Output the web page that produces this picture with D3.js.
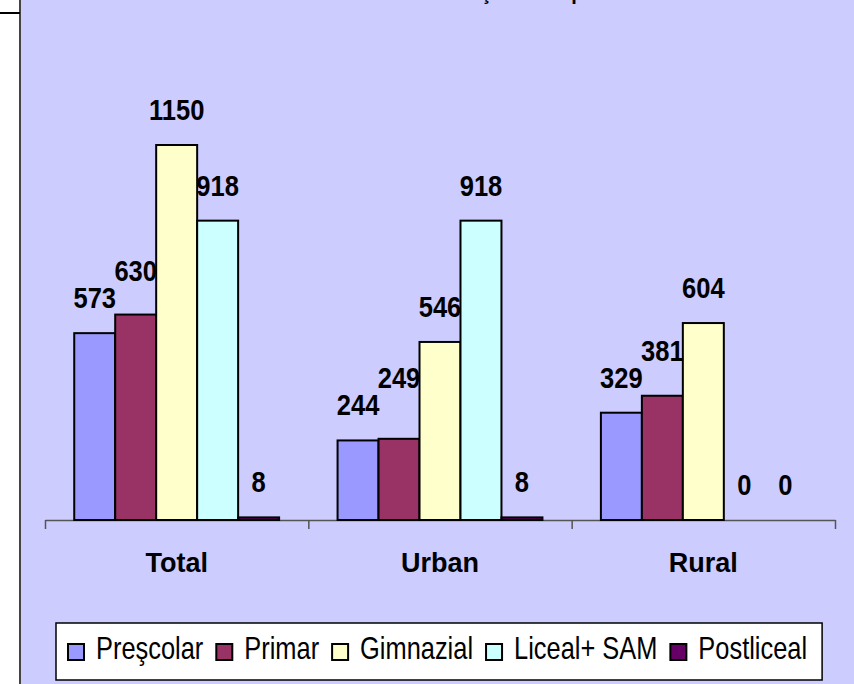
<!DOCTYPE html>
<html>
<head>
<meta charset="utf-8">
<script src="https://cdn.jsdelivr.net/npm/d3@7"></script>
<style>
body { margin: 0; background: #fff; }
svg { display: block; }
text { font-family: "Liberation Sans", Arial, sans-serif; }
</style>
</head>
<body>
<svg width="854" height="684"></svg>
<script>
// data
var categories = ["Total", "Urban", "Rural"];
var series = ["Preşcolar", "Primar", "Gimnazial", "Liceal+ SAM", "Postliceal"];
var colors = ["#9999FF", "#993366", "#FFFFCC", "#CCFFFF", "#660066"];
var prescolar = [573, 244, 329];
var primar = [630, 249, 381];
var gimnazial = [1150, 546, 604];
var liceal = [918, 918, 0];
var postliceal = [8, 8, 0];
var title = "Numărul cadrelor didactice în învăţământul preuniversitar";

var values = [prescolar, primar, gimnazial, liceal, postliceal];
var data = categories.map(function(c, i) {
    return { cat: c, vals: series.map(function(s, j) { return { s: s, v: values[j][i], k: j }; }) };
});

var svg = d3.select("svg");

// chart area background
svg.append("rect")
    .attr("x", 20).attr("y", 0)
    .attr("width", 834).attr("height", 684)
    .attr("fill", "#CCCCFF");
svg.append("line")
    .attr("x1", 20).attr("x2", 20).attr("y1", 0).attr("y2", 684)
    .attr("stroke", "#444").attr("stroke-width", 2);
svg.append("line")
    .attr("x1", 0).attr("x2", 20).attr("y1", 13).attr("y2", 13)
    .attr("stroke", "#000").attr("stroke-width", 2);

// title, cut off at the top like in the original
svg.append("text")
    .attr("x", 430).attr("y", 0)
    .attr("text-anchor", "middle")
    .style("font-size", "20px").style("font-weight", "bold")
    .text(title);

var left = 45, right = 835, base = 520;

var x0 = d3.scaleBand().domain(categories).range([left, right]);
var gap = x0.bandwidth() * 0.111;
var x1 = d3.scaleBand().domain(series).range([gap, x0.bandwidth() - gap]);
var y = d3.scaleLinear().domain([0, 1150]).range([base, 145]);

// axis with ticks at category boundaries
var xb = d3.scaleLinear().domain([0, categories.length]).range([left, right]);
var axis = svg.append("g")
    .attr("transform", "translate(0," + base + ")")
    .call(d3.axisBottom(xb).tickValues(d3.range(categories.length + 1)).tickSize(9).tickSizeOuter(0).tickFormat(""));
axis.selectAll("path, line").attr("stroke", "#555").attr("stroke-width", 1.5);

var groups = svg.selectAll(".grp")
    .data(data)
    .enter().append("g")
    .attr("class", "grp")
    .attr("transform", function(d) { return "translate(" + x0(d.cat) + ",0)"; });

groups.selectAll("rect")
    .data(function(d) { return d.vals; })
    .enter().append("rect")
    .attr("x", function(d) { return x1(d.s); })
    .attr("y", function(d) { return y(d.v); })
    .attr("width", x1.bandwidth())
    .attr("height", function(d) { return base - y(d.v); })
    .attr("fill", function(d) { return colors[d.k]; })
    .attr("stroke", "#000")
    .attr("stroke-width", 2);

// value labels, bumped up when they would run into the previous one
var lsx = 0.88, capH = 21;
groups.each(function(d) {
    var g = d3.select(this);
    var prev = null;
    d.vals.forEach(function(v) {
        var cx = x1(v.s) + x1.bandwidth() / 2;
        var by = y(v.v) - 25;
        var t = g.append("text")
            .attr("class", "lbl")
            .attr("text-anchor", "middle")
            .style("font-size", "29px").style("font-weight", "bold")
            .text(v.v);
        var w = t.node().getComputedTextLength() * lsx;
        if (prev && cx - w / 2 < prev.x1 + 6 && by > prev.y - capH - 4 && by - capH < prev.y + 4) {
            by = prev.y - capH - 6;
        }
        t.attr("transform", "translate(" + cx + "," + by + ") scale(" + lsx + ",1)");
        prev = { x1: cx + w / 2, y: by };
    });
});

// category labels
svg.selectAll(".cat")
    .data(categories)
    .enter().append("text")
    .attr("class", "cat")
    .attr("x", function(d) { return x0(d) + x0.bandwidth() / 2; })
    .attr("y", 572)
    .attr("text-anchor", "middle")
    .style("font-size", "27px").style("font-weight", "bold")
    .text(function(d) { return d; });

// legend
var legend = svg.append("g");
var box = legend.append("rect")
    .attr("y", 623).attr("height", 57)
    .attr("fill", "#fff").attr("stroke", "#000").attr("stroke-width", 1.5);
var sx = 0.82, lx = 68;
series.forEach(function(s, i) {
    legend.append("rect")
        .attr("x", lx).attr("y", 644)
        .attr("width", 16).attr("height", 16)
        .attr("fill", colors[i]).attr("stroke", "#000").attr("stroke-width", 2);
    var t = legend.append("text")
        .attr("transform", "translate(" + (lx + 28) + ",659) scale(" + sx + ",1)")
        .style("font-size", "31px")
        .text(s);
    lx += 28 + t.node().getComputedTextLength() * sx + 13;
});
box.attr("x", 56).attr("width", lx - 56 + 2);
</script>
</body>
</html>
